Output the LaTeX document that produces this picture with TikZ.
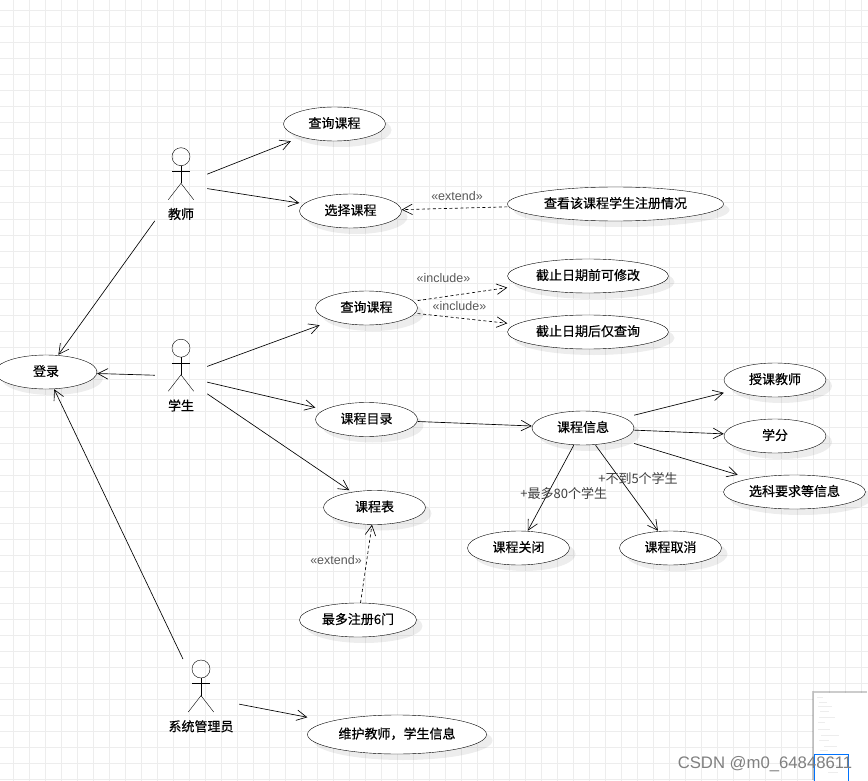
\documentclass[tikz,border=0pt]{standalone}
\usepackage{fontspec}
\usepackage{xcolor}
\setmainfont{Noto Sans CJK SC}[RawFeature={embolden=0.45}]
\newfontfamily\plainfont{Noto Sans CJK SC}
\newfontfamily\labelfont{Liberation Sans}
\newfontfamily\markfont{Liberation Sans}
\usetikzlibrary{shapes,arrows.meta,shadows,fit}

\tikzset{
    usecase/.style={draw, ellipse, fill=white, inner sep=0pt, minimum height=34,
        text height=11pt, text depth=3pt,
        drop shadow={shadow xshift=6pt, shadow yshift=-6pt, fill=black, opacity=0.07}},
    actor/.style={inner sep=0pt, minimum height=75, label={[yshift=-29.5pt]center:#1}},
    assoc/.style={-{Straight Barb[length=10pt,width=10.5pt]}, line width=0.65pt},
    depend/.style={assoc, dashed, dash pattern=on 3pt off 2.5pt},
    stereo/.style={text=black!65, font=\fontsize{12.5}{14}\labelfont},
    note/.style={text=black!75, font=\fontsize{13}{15}\plainfont},
    stickman/.pic={
        \draw (0,-27.8) circle (9);
        \draw (0,-18.8) -- (0,-1.2);
        \draw (-9,-13.2) -- (9,-13.2);
        \draw (-12.7,15.2) -- (0,-1.2) -- (12.7,15.2);
    }
}

\begin{document}
\begin{tikzpicture}[x=1pt, y=-1pt, every node/.append style={font=\fontsize{13}{15}\selectfont}]
\useasboundingbox (0,0) rectangle (868,781);
\fill[white] (0,0) rectangle (868,781);

% Background grid
\foreach \i in {0,...,53} {
    \draw[black!7, line width=1pt] (13+\i*16, 0) -- (13+\i*16, 781);
}
\foreach \i in {0,...,48} {
    \draw[black!7, line width=1pt] (0, 11+\i*16) -- (868, 11+\i*16);
}

% Actors
\node[actor=教师, minimum width=52] (teacher) at (181, 184.5) {};
\node[actor=学生, minimum width=52] (student) at (181, 376) {};
\node[actor=系统管理员, minimum width=76] (admin) at (201, 696.8) {};
\foreach \who in {teacher,student,admin} {
    \pic at (\who) {stickman};
}

% Use cases
\node[usecase, minimum width=102] (loginoval) at (46, 372) {登录};
\node[usecase, minimum width=102] (teacherqueryoval) at (334.5, 124) {查询课程};
\node[usecase, minimum width=102] (selectoval) at (350.5, 211) {选择课程};
\node[usecase, minimum width=216] (enrolmentoval) at (615.5, 204) {查看该课程学生注册情况};
\node[usecase, minimum width=102] (studentqueryoval) at (366.5, 308) {查询课程};
\node[usecase, minimum width=161] (beforeoval) at (588, 276) {截止日期前可修改};
\node[usecase, minimum width=161] (afteroval) at (588, 332) {截止日期后仅查询};
\node[usecase, minimum width=102] (catalogoval) at (366.5, 419.5) {课程目录};
\node[usecase, minimum width=102] (infooval) at (583, 428) {课程信息};
\node[usecase, minimum width=102] (lectureroval) at (775, 380) {授课教师};
\node[usecase, minimum width=102] (creditoval) at (775, 436) {学分};
\node[usecase, minimum width=142] (requireoval) at (794.5, 492) {选科要求等信息};
\node[usecase, minimum width=102] (closedoval) at (518.5, 548) {课程关闭};
\node[usecase, minimum width=102] (canceloval) at (670.5, 548) {课程取消};
\node[usecase, minimum width=102] (timetableoval) at (374.5, 507.5) {课程表};
\node[usecase, minimum width=117] (maxsixoval) at (358, 620) {最多注册6门};
\node[usecase, minimum width=179, minimum height=39] (maintainoval) at (397, 734.5) {维护教师，学生信息};

% Connectors stop at the box round each oval
\foreach \n in {login,teacherquery,select,enrolment,studentquery,before,after,catalog,
    info,lecturer,credit,require,closed,cancel,timetable,maxsix,maintain} {
    \node[fit=(\n oval), inner sep=0pt, outer sep=0pt] (\n) {};
}

% Associations
\foreach \a/\b in {teacher/teacherquery,teacher/select,teacher/login,
    student/login,student/studentquery,student/catalog,student/timetable,
    admin/login,admin/maintain,catalog/info,info/lecturer,info/credit,
    info/require,info/closed,info/cancel} {
    \draw[assoc] (\a) -- (\b);
}

% Dependencies
\foreach \a/\b in {enrolment/select,studentquery/before,studentquery/after,maxsix/timetable} {
    \draw[depend] (\a) -- (\b);
}

% Stereotypes and multiplicities
\node[stereo] (extendone) at (457, 196) {«extend»};
\node[stereo] (includeone) at (443.5, 278) {«include»};
\node[stereo] (includetwo) at (459.5, 306.5) {«include»};
\node[stereo] (extendtwo) at (336, 560) {«extend»};
\node[note] (maxeighty) at (563.7, 493.5) {+最多80个学生};
\node[note] (lessfive) at (638, 478.5) {+不到5个学生};

% Overview panel
\fill[white, drop shadow={shadow xshift=-1.5pt, shadow yshift=1.5pt, fill=black, opacity=0.2}]
    (813.5, 692.5) rectangle (868, 781);
\foreach \x/\y/\w in {817/697/6,819/702/8,818/706/14,820/711/9,819/717/16,818/722/7,
    818/729/12,821/735/18,819/740/10,824/746/13,820/750/8,826/758/12,822/765/16,828/772/10} {
    \draw[black!7, line width=1pt] (\x, \y) -- (\x+\w, \y);
}
\draw[blue!55!cyan, line width=0.8pt] (814.5, 781) -- (814.5, 754.5) -- (848.5, 754.5) -- (848.5, 781);

% Watermark
\node[text=black!50, font=\fontsize{16.7}{18}\markfont] (watermark) at (765, 764.5) {CSDN @m0\_64848611};

\end{tikzpicture}
\end{document}
